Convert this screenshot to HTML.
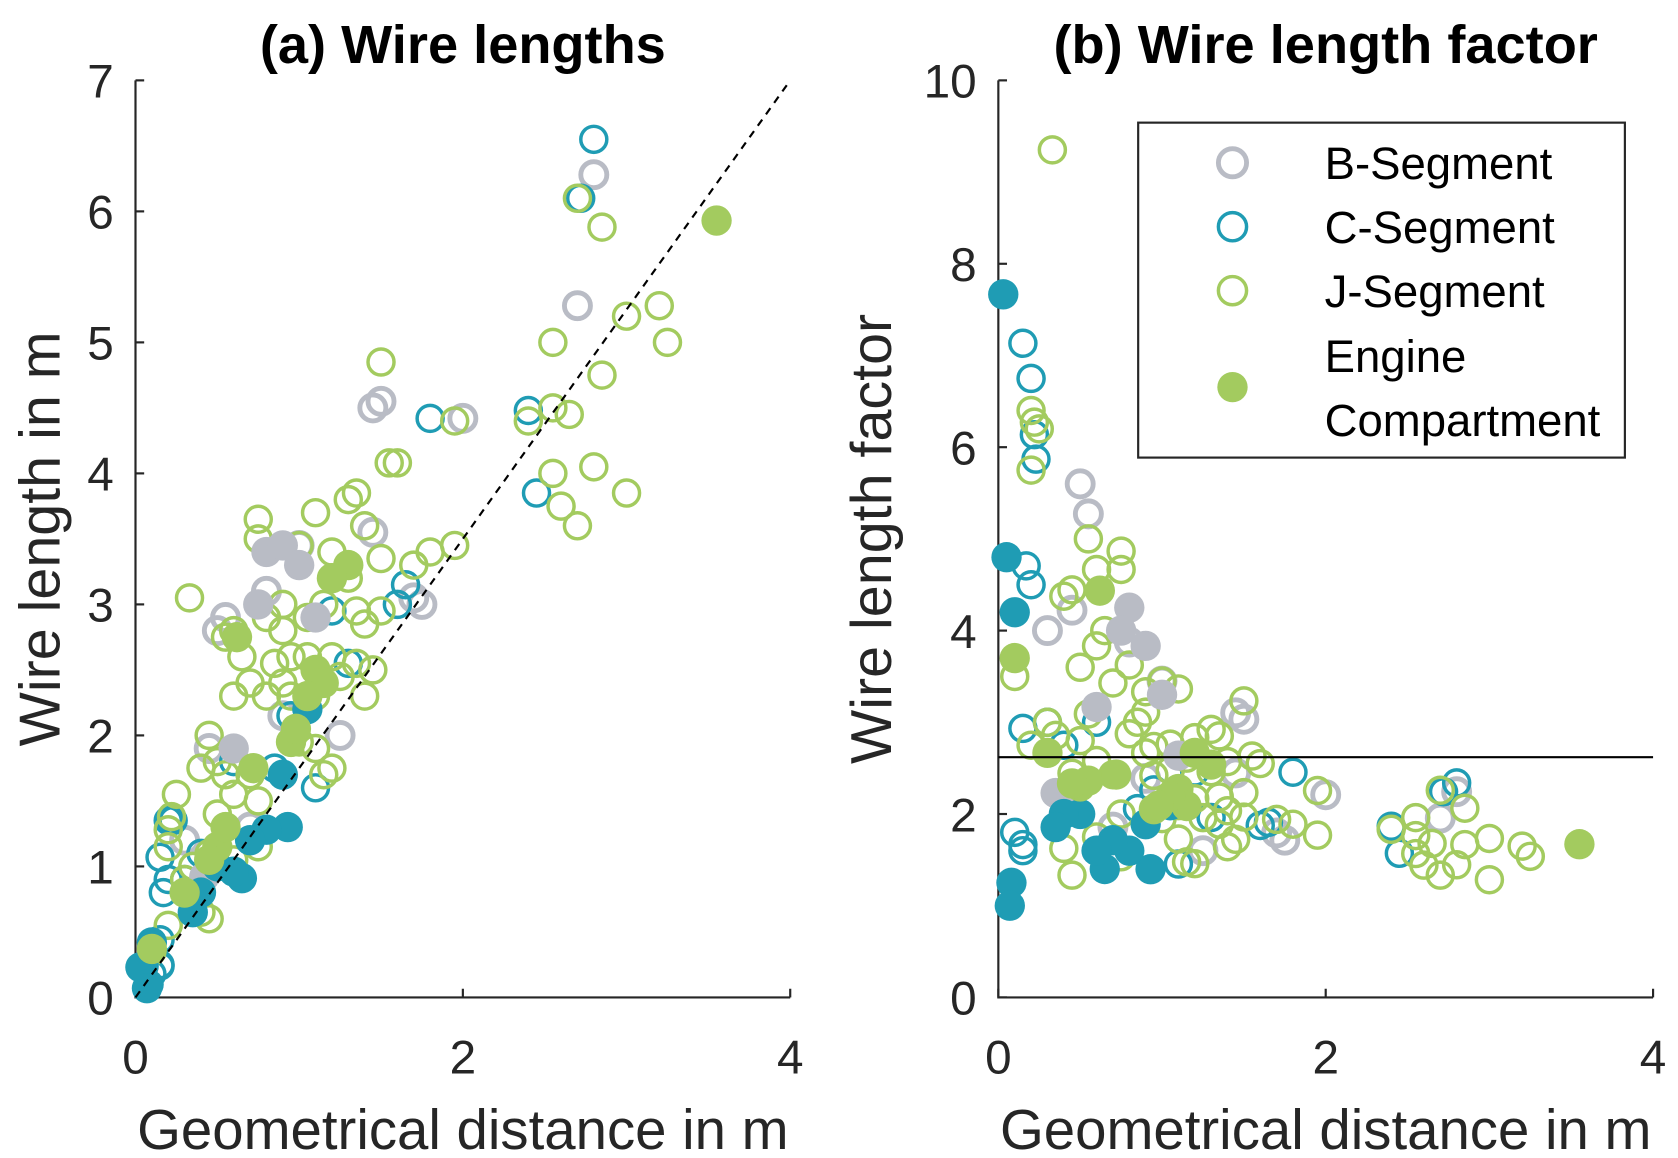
<!DOCTYPE html>
<html><head><meta charset="utf-8"><style>
html,body{margin:0;padding:0;background:#fff;}
svg{display:block;font-family:"Liberation Sans",Arial,sans-serif;}
</style></head><body>
<svg id="fig" width="1678" height="1158" viewBox="0 0 1548 1068" xmlns="http://www.w3.org/2000/svg">
<g id="left"></g>
<g id="right"></g>
</svg>
<script>
// distance (m), wire length (m)
const bOpenX=[2.8,2.7,2.0,1.5,1.45,1.25,0.9,1.75,1.45,0.5,0.8,1.0,0.45,0.3,0.7,0.55,1.7];
const bOpenY=[6.28,5.28,4.42,4.55,4.5,2.0,2.15,3.0,3.55,2.8,3.1,3.45,1.9,1.2,1.3,2.9,3.05];
const bFillX=[0.8,0.9,1.1,0.75,0.42,1.0,0.35,0.6];
const bFillY=[3.4,3.45,2.9,3.0,0.92,3.3,0.78,1.9];
const cOpenX=[2.8,2.72,1.8,2.4,2.45,1.65,1.3,0.2,0.17,0.15,0.6,0.95,1.1,0.4,0.3,0.7,1.2,0.85,0.15,0.22,0.23,0.2,0.1,0.15,0.1,0.15,1.6];
const cOpenY=[6.55,6.1,4.42,4.48,3.85,3.15,2.55,1.35,0.8,0.25,1.8,2.15,1.6,1.1,0.9,1.2,2.95,1.75,1.07,1.35,1.35,0.9,0.42,0.44,0.18,0.24,3.0];
const cFillX=[0.03,0.05,0.08,0.07,0.65,0.93,0.8,0.9,0.5,1.05,0.7,0.4,0.6,0.35,0.1];
const cFillY=[0.23,0.24,0.1,0.07,0.91,1.3,1.28,1.7,1.0,2.2,1.2,0.8,0.96,0.65,0.42];
const jOpenX=[2.7,2.85,3.0,3.2,3.25,2.55,2.85,2.65,2.55,2.4,2.55,2.8,3.0,2.6,2.7,1.5,1.55,1.6,1.95,1.95,1.8,1.7,1.3,1.35,1.1,1.4,0.75,0.75,1.0,1.2,1.3,1.5,0.33,0.6,0.55,0.75,0.9,0.8,0.9,1.05,1.15,1.35,1.4,1.5,1.35,1.45,1.4,0.7,0.85,0.9,0.95,1.1,0.8,0.6,0.45,0.4,0.5,0.55,0.7,0.75,0.6,1.15,1.2,0.5,0.55,0.45,0.6,0.75,0.2,0.3,0.4,0.45,0.2,0.1,0.35,1.0,1.1,0.65,0.95,1.2,1.25,1.05,0.2,0.22,0.25];
const jOpenY=[6.1,5.88,5.2,5.28,5.0,5.0,4.75,4.45,4.5,4.4,4.0,4.05,3.85,3.75,3.6,4.85,4.08,4.08,4.4,3.45,3.4,3.3,3.8,3.85,3.7,3.6,3.65,3.5,3.45,3.4,3.2,3.35,3.05,2.8,2.75,3.0,3.0,2.9,2.8,2.9,3.0,2.95,2.85,2.95,2.55,2.5,2.3,2.4,2.55,2.4,2.6,2.3,2.3,2.3,2.0,1.75,1.8,1.7,1.7,1.5,1.55,1.7,1.75,1.4,1.3,1.1,1.05,1.15,1.15,0.9,0.65,0.6,0.55,0.35,1.0,1.95,1.9,2.6,2.3,2.6,2.45,2.6,1.28,1.38,1.55];
const jFillX=[3.55,0.3,0.5,0.55,0.62,0.45,0.72,0.95,1.1,1.15,1.3,1.2,0.1,1.05,0.98];
const jFillY=[5.93,0.8,1.15,1.3,2.75,1.05,1.75,1.95,2.5,2.4,3.3,3.2,0.37,2.3,2.05];
const leftYTicks=[0,1,2,3,4,5,6,7];
const rightYTicks=[0,2,4,6,8,10];
const xTicks=[0,2,4];

const NS="http://www.w3.org/2000/svg";
const GRAY="#b9bcc5",TEAL="#1f9cb4",GREEN="#a3cb5f",INK="#262626";
function el(parent,tag,attrs,text){const e=document.createElementNS(NS,tag);for(const k in attrs)e.setAttribute(k,attrs[k]);if(text!==undefined)e.textContent=text;parent.appendChild(e);return e;}

function drawPanel(g,x0,x1,yMin,yMax,ticks,title,ylab,ylabOff,valFn){
  const yb=920,yt=74;
  const sx=v=>x0+(v/4)*(x1-x0);
  const sy=v=>yb-(v-yMin)/(yMax-yMin)*(yb-yt);
  const t=el(g,'text',{x:(x0+x1)/2,y:58,'text-anchor':'middle','font-size':50,'font-weight':'bold',fill:'#000'},title);
  
  
  const ax=el(g,'path',{d:`M${x0} ${yt}V${yb}H${x1}`,stroke:INK,'stroke-width':2,fill:'none'});
  
  
  ticks.forEach(v=>{
    el(g,'line',{x1:x0,x2:x0+8,y1:sy(v),y2:sy(v),stroke:INK,'stroke-width':2});
    const l=el(g,'text',{x:x0-20,y:sy(v)+16,'text-anchor':'end','font-size':44,fill:INK},String(v));
    
    
  });
  xTicks.forEach(v=>{
    el(g,'line',{x1:sx(v),x2:sx(v),y1:yb,y2:yb-8,stroke:INK,'stroke-width':2});
    const l=el(g,'text',{x:sx(v),y:990,'text-anchor':'middle','font-size':44,fill:INK},String(v));
    
    
  });
  const xl=el(g,'text',{x:(x0+x1)/2,y:1060,'text-anchor':'middle','font-size':52,fill:INK},'Geometrical distance in m');
  
  
  const cy=(yt+yb)/2;
  const lx=x0-ylabOff;
  const yl=el(g,'text',{x:lx,y:cy,'text-anchor':'middle','font-size':53,fill:INK,transform:`rotate(-90 ${lx} ${cy})`},ylab);
  
  
  const series=[[bOpenX,bOpenY,GRAY,false,4.5],[cOpenX,cOpenY,TEAL,false,3.2],[jOpenX,jOpenY,GREEN,false,3.2],[bFillX,bFillY,GRAY,true],[cFillX,cFillY,TEAL,true],[jFillX,jFillY,GREEN,true]];
  const names=['b-segment-point','c-segment-point','j-segment-point','b-engine-point','c-engine-point','j-engine-point'];
  series.forEach((s,si)=>{
    s[0].forEach((d,i)=>{
      const v=valFn(d,s[1][i]);
      const c=s[3]?el(g,'circle',{cx:sx(d),cy:sy(v),r:14,fill:s[2]}):el(g,'circle',{cx:sx(d),cy:sy(v),r:12,fill:'none',stroke:s[2],'stroke-width':s[4]});
      
      
    });
  });
  return {sx,sy};
}
const L=document.getElementById('left'),R=document.getElementById('right');
const a=drawPanel(L,125,729,0,7,leftYTicks,'(a) Wire lengths','Wire length in m',70,(d,y)=>y);
const ref=el(L,'line',{x1:a.sx(0),y1:a.sy(0),x2:a.sx(4),y2:a.sy(7),stroke:'#000','stroke-width':2,'stroke-dasharray':'7 6'});


const b=drawPanel(R,921,1525,0,10,rightYTicks,'(b) Wire length factor','Wire length factor',99,(d,y)=>y/d);
const mean=el(R,'line',{x1:921,x2:1525,y1:b.sy(2.62),y2:b.sy(2.62),stroke:'#000','stroke-width':2});


// legend
const lg=el(R,'g',{});


el(lg,'rect',{x:1050,y:113,width:449,height:309,fill:'#fff',stroke:INK,'stroke-width':2});
const entries=[['B-Segment',GRAY,false,150,4.5],['C-Segment',TEAL,false,209,3.2],['J-Segment',GREEN,false,268,3.2]];
entries.forEach(e=>{
  const m=el(lg,'circle',{cx:1137,cy:e[3],r:13,fill:'none',stroke:e[1],'stroke-width':e[4]});
  
  
  const tx=el(lg,'text',{x:1222,y:e[3]+15,'font-size':42,fill:'#000'},e[0]);
  
  
});
const em=el(lg,'circle',{cx:1137,cy:357,r:14,fill:GREEN});


const et1=el(lg,'text',{x:1222,y:343,'font-size':42,fill:'#000'},'Engine');


const et2=el(lg,'text',{x:1222,y:402,'font-size':42,fill:'#000'},'Compartment');


</script>
</body></html>
